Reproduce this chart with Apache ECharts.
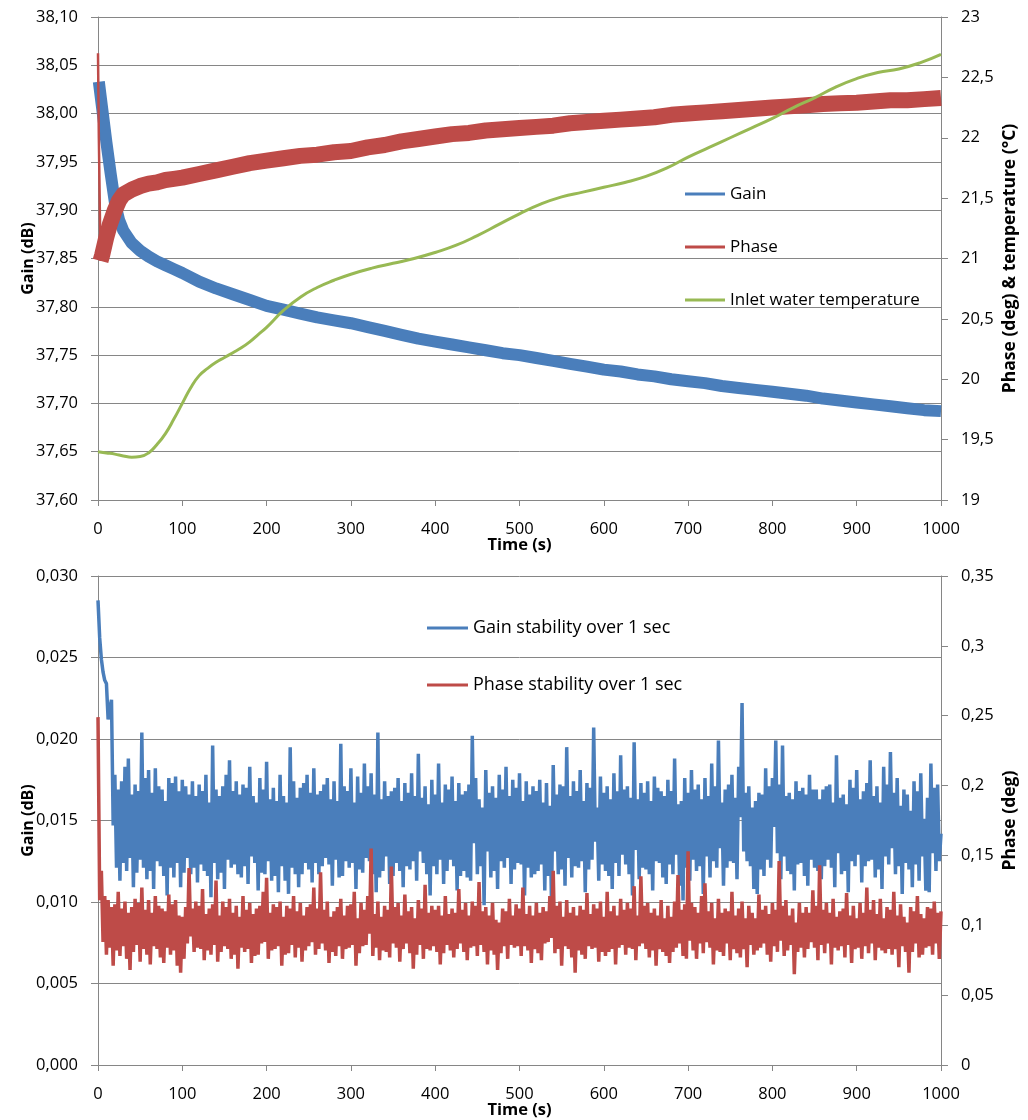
<!DOCTYPE html>
<html><head><meta charset="utf-8">
<script src="https://cdn.jsdelivr.net/npm/echarts@6/dist/echarts.min.js"></script>
<style>html,body{margin:0;padding:0;background:#fff}#c{width:1028px;height:1120px}</style>
</head><body><div id="c"></div>
<script>
// ---------- TOP CHART DATA ----------
const gainT = [1,5,10,15,20,25,30,40,50,60,70,80,90,100,120,140,160,180,200,220,240,260,280,300,320,340,360,380,400,420,440,460,480,500,520,540,560,580,600,620,640,660,680,700,720,740,760,780,800,820,840,860,880,900,920,940,960,980,1000];
const gainV = [38.033,38.005,37.970,37.938,37.908,37.890,37.879,37.866,37.858,37.852,37.847,37.843,37.839,37.835,37.826,37.819,37.813,37.807,37.801,37.797,37.793,37.789,37.786,37.783,37.779,37.775,37.771,37.767,37.764,37.761,37.758,37.755,37.752,37.750,37.747,37.744,37.741,37.738,37.735,37.733,37.730,37.728,37.725,37.723,37.721,37.718,37.716,37.714,37.712,37.710,37.708,37.705,37.703,37.701,37.699,37.697,37.695,37.693,37.692];

const phaseSpikeT = [0, 1, 3];
const phaseSpikeV = [22.70, 22.00, 20.98];
const phaseT = [3,5,8,10,14,20,25,30,40,50,60,70,80,90,100,120,140,160,180,200,220,240,260,280,300,320,340,360,380,400,420,440,460,480,500,520,540,560,580,600,620,640,660,680,700,720,740,760,780,800,820,840,860,880,900,920,940,960,980,1000];
const phaseV = [20.98,21.03,21.12,21.18,21.28,21.40,21.48,21.53,21.57,21.60,21.62,21.63,21.65,21.66,21.67,21.70,21.73,21.76,21.79,21.81,21.83,21.85,21.86,21.88,21.89,21.92,21.94,21.97,21.99,22.01,22.03,22.04,22.06,22.07,22.08,22.09,22.10,22.12,22.13,22.14,22.15,22.16,22.17,22.19,22.20,22.21,22.22,22.23,22.24,22.25,22.26,22.27,22.28,22.285,22.29,22.30,22.31,22.31,22.32,22.33];

const tempT = [0,10,20,30,40,50,60,70,80,90,100,110,120,130,140,150,160,170,180,190,200,220,240,260,280,300,325,350,375,400,425,450,475,500,525,550,575,600,625,650,675,700,725,750,775,800,825,850,875,900,925,950,975,1000];
const tempV = [19.40,19.39,19.38,19.365,19.355,19.36,19.39,19.46,19.55,19.67,19.80,19.93,20.03,20.09,20.14,20.18,20.22,20.26,20.31,20.37,20.43,20.57,20.68,20.76,20.82,20.87,20.92,20.96,21.00,21.05,21.11,21.19,21.28,21.37,21.45,21.51,21.55,21.59,21.63,21.68,21.75,21.84,21.92,22.00,22.08,22.16,22.25,22.33,22.42,22.49,22.54,22.57,22.62,22.69];

// ---------- BOTTOM CHART DATA (one value every 2 s, t = 0..1000) ----------
const stabStep = 2;
const gainStab = [
0.0285,0.0262,0.0249,0.0241,0.0236,0.0234,0.0212,0.0219,0.0224,0.0147,
0.0178,0.0121,0.0169,0.0113,0.0174,0.0124,0.0183,0.0119,0.0188,0.0127,
0.0166,0.0109,0.0172,0.0118,0.0168,0.0126,0.0204,0.0121,0.0176,0.0114,
0.0181,0.0119,0.0167,0.0108,0.0182,0.0125,0.0171,0.0122,0.0169,0.0116,
0.0162,0.0104,0.0176,0.0121,0.0173,0.0115,0.0177,0.0124,0.0168,0.0109,
0.0175,0.0118,0.0171,0.0127,0.0166,0.0117,0.0174,0.0121,0.0165,0.0112,
0.0172,0.0123,0.0168,0.0119,0.0178,0.0116,0.0161,0.0103,0.0196,0.0124,
0.0169,0.0114,0.0165,0.0118,0.0171,0.0108,0.0178,0.0126,0.0187,0.0121,
0.0168,0.0123,0.0174,0.0117,0.0166,0.0115,0.0172,0.0122,0.0170,0.0111,
0.0183,0.0128,0.0165,0.0124,0.0161,0.0107,0.0176,0.0118,0.0169,0.0117,
0.0186,0.0125,0.0163,0.0113,0.0170,0.0116,0.0162,0.0106,0.0178,0.0122,
0.0165,0.0113,0.0161,0.0105,0.0195,0.0121,0.0174,0.0117,0.0164,0.0109,
0.0170,0.0117,0.0173,0.0124,0.0178,0.0120,0.0167,0.0112,0.0182,0.0124,
0.0166,0.0117,0.0168,0.0122,0.0172,0.0127,0.0176,0.0123,0.0163,0.0110,
0.0174,0.0126,0.0162,0.0115,0.0197,0.0116,0.0171,0.0125,0.0168,0.0121,
0.0182,0.0124,0.0161,0.0108,0.0177,0.0120,0.0167,0.0118,0.0185,0.0127,
0.0171,0.0125,0.0179,0.0117,0.0166,0.0106,0.0204,0.0115,0.0163,0.0119,
0.0174,0.0128,0.0165,0.0111,0.0168,0.0116,0.0170,0.0124,0.0176,0.0119,
0.0162,0.0109,0.0173,0.0122,0.0167,0.0120,0.0179,0.0125,0.0165,0.0113,
0.0191,0.0131,0.0164,0.0124,0.0171,0.0117,0.0160,0.0104,0.0175,0.0122,
0.0166,0.0117,0.0185,0.0126,0.0161,0.0111,0.0172,0.0119,0.0169,0.0126,
0.0177,0.0122,0.0162,0.0107,0.0173,0.0116,0.0166,0.0119,0.0168,0.0115,
0.0172,0.0113,0.0202,0.0136,0.0176,0.0117,0.0163,0.0122,0.0158,0.0098,
0.0181,0.0131,0.0167,0.0115,0.0171,0.0119,0.0164,0.0108,0.0178,0.0125,
0.0169,0.0121,0.0183,0.0127,0.0165,0.0111,0.0175,0.0120,0.0170,0.0124,
0.0179,0.0123,0.0162,0.0104,0.0174,0.0121,0.0166,0.0115,0.0171,0.0117,
0.0168,0.0119,0.0175,0.0123,0.0161,0.0107,0.0173,0.0116,0.0159,0.0098,
0.0184,0.0131,0.0166,0.0117,0.0172,0.0120,0.0171,0.0110,0.0195,0.0127,
0.0165,0.0115,0.0174,0.0122,0.0168,0.0121,0.0181,0.0125,0.0162,0.0106,
0.0173,0.0120,0.0170,0.0126,0.0207,0.0137,0.0158,0.0113,0.0177,0.0123,
0.0167,0.0119,0.0171,0.0116,0.0163,0.0108,0.0179,0.0124,0.0168,0.0116,
0.0190,0.0129,0.0169,0.0123,0.0171,0.0117,0.0164,0.0104,0.0198,0.0132,
0.0163,0.0114,0.0173,0.0121,0.0167,0.0120,0.0174,0.0117,0.0162,0.0107,
0.0177,0.0125,0.0170,0.0124,0.0168,0.0115,0.0165,0.0111,0.0175,0.0123,
0.0168,0.0117,0.0188,0.0129,0.0160,0.0110,0.0162,0.0101,0.0176,0.0121,
0.0167,0.0113,0.0181,0.0126,0.0169,0.0119,0.0172,0.0122,0.0163,0.0105,
0.0176,0.0128,0.0165,0.0115,0.0185,0.0125,0.0171,0.0121,0.0199,0.0133,
0.0161,0.0110,0.0169,0.0121,0.0172,0.0125,0.0178,0.0124,0.0164,0.0114,
0.0183,0.0152,0.0222,0.0131,0.0167,0.0125,0.0171,0.0122,0.0158,0.0108,
0.0162,0.0105,0.0167,0.0120,0.0166,0.0116,0.0182,0.0126,0.0171,0.0121,
0.0176,0.0146,0.0199,0.0130,0.0172,0.0114,0.0196,0.0128,0.0165,0.0119,
0.0167,0.0117,0.0163,0.0107,0.0174,0.0123,0.0168,0.0124,0.0170,0.0116,
0.0166,0.0110,0.0178,0.0126,0.0169,0.0121,0.0169,0.0119,0.0163,0.0114,
0.0169,0.0122,0.0171,0.0126,0.0172,0.0121,0.0161,0.0109,0.0190,0.0130,
0.0164,0.0117,0.0166,0.0119,0.0160,0.0106,0.0175,0.0125,0.0170,0.0122,
0.0181,0.0129,0.0163,0.0112,0.0168,0.0122,0.0173,0.0125,0.0187,0.0126,
0.0165,0.0115,0.0171,0.0120,0.0161,0.0108,0.0183,0.0128,0.0172,0.0123,
0.0192,0.0133,0.0167,0.0117,0.0176,0.0122,0.0159,0.0105,0.0169,0.0124,
0.0166,0.0120,0.0156,0.0109,0.0174,0.0123,0.0168,0.0113,0.0179,0.0128,
0.0151,0.0107,0.0164,0.0106,0.0185,0.0130,0.0170,0.0119,0.0172,0.0125,
0.0142];
const phaseStab = [
0.249,0.118,0.139,0.088,0.121,0.079,0.118,0.084,0.113,0.071,
0.115,0.082,0.124,0.078,0.112,0.085,0.117,0.076,0.109,0.068,
0.113,0.081,0.119,0.086,0.116,0.074,0.127,0.083,0.111,0.079,
0.118,0.072,0.109,0.085,0.121,0.083,0.114,0.077,0.112,0.073,
0.110,0.084,0.122,0.079,0.115,0.082,0.118,0.071,0.107,0.066,
0.106,0.076,0.113,0.087,0.141,0.092,0.112,0.081,0.117,0.084,
0.114,0.083,0.126,0.075,0.108,0.082,0.112,0.079,0.115,0.086,
0.132,0.074,0.107,0.081,0.117,0.085,0.113,0.083,0.119,0.076,
0.109,0.079,0.114,0.069,0.106,0.084,0.121,0.081,0.111,0.083,
0.116,0.073,0.108,0.078,0.112,0.079,0.114,0.087,0.124,0.088,
0.134,0.076,0.109,0.082,0.115,0.083,0.113,0.085,0.117,0.071,
0.106,0.079,0.114,0.080,0.112,0.086,0.121,0.077,0.110,0.084,
0.116,0.074,0.107,0.082,0.113,0.085,0.115,0.088,0.127,0.079,
0.112,0.083,0.138,0.087,0.111,0.082,0.117,0.073,0.106,0.081,
0.110,0.078,0.113,0.085,0.119,0.076,0.107,0.083,0.114,0.084,
0.115,0.086,0.124,0.071,0.105,0.080,0.116,0.085,0.111,0.086,
0.121,0.094,0.155,0.078,0.108,0.084,0.117,0.075,0.106,0.082,
0.114,0.081,0.111,0.077,0.142,0.087,0.113,0.084,0.116,0.074,
0.107,0.083,0.122,0.087,0.110,0.080,0.113,0.069,0.105,0.079,
0.118,0.086,0.112,0.076,0.129,0.083,0.109,0.082,0.114,0.085,
0.111,0.081,0.114,0.072,0.107,0.080,0.121,0.086,0.108,0.082,
0.112,0.077,0.109,0.083,0.126,0.087,0.111,0.081,0.116,0.075,
0.107,0.084,0.117,0.085,0.114,0.078,0.131,0.086,0.110,0.081,
0.113,0.072,0.107,0.082,0.116,0.079,0.104,0.068,0.102,0.080,
0.112,0.085,0.110,0.076,0.119,0.086,0.107,0.084,0.115,0.085,
0.112,0.078,0.127,0.085,0.108,0.082,0.114,0.073,0.107,0.083,
0.116,0.080,0.109,0.075,0.113,0.087,0.110,0.088,0.121,0.091,
0.139,0.080,0.114,0.083,0.117,0.071,0.106,0.085,0.118,0.083,
0.109,0.077,0.113,0.066,0.107,0.082,0.114,0.079,0.111,0.076,
0.123,0.085,0.108,0.083,0.115,0.084,0.112,0.074,0.117,0.081,
0.106,0.078,0.124,0.081,0.110,0.083,0.114,0.072,0.107,0.084,
0.119,0.086,0.111,0.079,0.116,0.084,0.112,0.083,0.128,0.075,
0.107,0.085,0.135,0.087,0.114,0.083,0.116,0.077,0.109,0.082,
0.112,0.071,0.107,0.083,0.118,0.081,0.105,0.078,0.114,0.073,
0.106,0.081,0.117,0.084,0.136,0.087,0.111,0.078,0.115,0.076,
0.153,0.089,0.116,0.082,0.113,0.076,0.109,0.087,0.121,0.080,
0.130,0.088,0.110,0.084,0.116,0.072,0.105,0.082,0.119,0.081,
0.109,0.078,0.112,0.087,0.110,0.075,0.124,0.083,0.107,0.080,
0.112,0.077,0.117,0.083,0.105,0.070,0.114,0.086,0.109,0.079,
0.105,0.082,0.122,0.084,0.111,0.087,0.114,0.079,0.108,0.074,
0.116,0.085,0.111,0.081,0.146,0.089,0.114,0.078,0.118,0.082,
0.107,0.086,0.112,0.065,0.102,0.081,0.116,0.084,0.109,0.077,
0.113,0.083,0.109,0.088,0.125,0.084,0.114,0.075,0.143,0.086,
0.111,0.080,0.116,0.087,0.109,0.072,0.119,0.084,0.106,0.082,
0.110,0.085,0.112,0.077,0.123,0.086,0.107,0.073,0.114,0.083,
0.105,0.084,0.116,0.076,0.109,0.085,0.127,0.080,0.111,0.087,
0.118,0.075,0.108,0.084,0.119,0.082,0.105,0.080,0.113,0.083,
0.111,0.079,0.124,0.083,0.107,0.070,0.115,0.085,0.106,0.081,
0.102,0.066,0.113,0.081,0.110,0.087,0.121,0.077,0.108,0.079,
0.105,0.084,0.113,0.085,0.112,0.079,0.117,0.087,0.109,0.076,
0.110];

// ---------- RENDER ----------
const FONT = 'Open Sans';
const GRID_C = '#868686';
const BLUE = '#4A7EBB', RED = '#BE4B48', GREEN = '#98B954';
const zip = (t, v) => t.map((x, i) => [x, v[i]]);
const zipStep = (v, s) => v.map((y, i) => [i * s, y]);
const fixed = d => v => v.toFixed(d).replace('.', ',');
const general = v => String(Math.round(v * 1000) / 1000).replace('.', ',');

const labelStyle = {fontFamily: FONT, fontSize: 16.5, color: '#000'};
const nameStyle = s => ({fontFamily: FONT, fontSize: s, fontWeight: 'bold', color: '#000'});

function xAxis(gridIndex) {
  return {
    type: 'value', gridIndex, min: 0, max: 1000, interval: 100,
    name: 'Time (s)', nameLocation: 'middle', nameGap: 37, nameMoveOverlap: false, nameTextStyle: nameStyle(16.5),
    axisLine: {show: true, onZero: false, lineStyle: {color: GRID_C}},
    axisTick: {show: true, length: 6, lineStyle: {color: GRID_C}},
    axisLabel: Object.assign({margin: 21, formatter: v => String(v)}, labelStyle),
    splitLine: {show: false}
  };
}
function yAxis(gridIndex, pos, min, max, interval, fmt, name, nameGap, nameSize, grid) {
  return {
    type: 'value', gridIndex, position: pos, min, max, interval,
    name, nameLocation: 'middle', nameGap, nameRotate: 90, nameMoveOverlap: false, nameTextStyle: nameStyle(nameSize),
    axisLine: {show: true, lineStyle: {color: GRID_C}},
    axisTick: {show: true, length: 7, lineStyle: {color: GRID_C}},
    axisLabel: Object.assign({margin: 20, formatter: fmt}, labelStyle),
    splitLine: {show: grid, lineStyle: {color: GRID_C, width: 1}}
  };
}

const chart = echarts.init(document.getElementById('c'), null, {renderer: 'canvas'});
chart.setOption({
  animation: false,
  backgroundColor: '#fff',
  grid: [
    {left: 98, right: 87, top: 17, height: 483},
    {left: 98, right: 87, top: 576, height: 492}
  ],
  xAxis: [xAxis(0), xAxis(1)],
  yAxis: [
    yAxis(0, 'left', 37.60, 38.10, 0.05, fixed(2), 'Gain (dB)', 62, 16, true),
    yAxis(0, 'right', 19, 23, 0.5, general, 'Phase (deg) & temperature (°C)', 60, 17.5, false),
    yAxis(1, 'left', 0, 0.03, 0.005, fixed(3), 'Gain (dB)', 62, 16, true),
    yAxis(1, 'right', 0, 0.35, 0.05, general, 'Phase (deg)', 60, 17.5, false)
  ],
  legend: [
    {data: ['Gain', 'Phase', 'Inlet water temperature'], orient: 'vertical', left: 685, top: 184, padding: 0,
     itemWidth: 40, itemHeight: 3, itemGap: 33, icon: 'rect', selectedMode: false,
     textStyle: {fontFamily: FONT, fontSize: 17, color: '#000', lineHeight: 20}},
    {data: ['Gain stability over 1 sec', 'Phase stability over 1 sec'], orient: 'vertical', left: 427, top: 618, padding: 0,
     itemWidth: 41, itemHeight: 3, itemGap: 37, icon: 'rect', selectedMode: false,
     textStyle: {fontFamily: FONT, fontSize: 18, color: '#000', lineHeight: 20}}
  ],
  series: [
    {name: 'Gain', type: 'line', xAxisIndex: 0, yAxisIndex: 0, data: zip(gainT, gainV),
     showSymbol: false, color: BLUE, lineStyle: {width: 12, color: BLUE, cap: 'butt', join: 'round'}},
    {name: 'PhaseSpike', type: 'line', xAxisIndex: 0, yAxisIndex: 1, data: zip(phaseSpikeT, phaseSpikeV),
     showSymbol: false, color: RED, lineStyle: {width: 2.5, color: RED}},
    {name: 'Phase', type: 'line', xAxisIndex: 0, yAxisIndex: 1, data: zip(phaseT, phaseV),
     showSymbol: false, color: RED, lineStyle: {width: 16, color: RED, cap: 'butt', join: 'round'}},
    {name: 'Inlet water temperature', type: 'line', xAxisIndex: 0, yAxisIndex: 1, data: zip(tempT, tempV),
     showSymbol: false, smooth: true, color: GREEN, lineStyle: {width: 3, color: GREEN}},
    {name: 'Gain stability over 1 sec', type: 'line', xAxisIndex: 1, yAxisIndex: 2, data: zipStep(gainStab, stabStep),
     showSymbol: false, color: BLUE, lineStyle: {width: 3.5, color: BLUE}},
    {name: 'Phase stability over 1 sec', type: 'line', xAxisIndex: 1, yAxisIndex: 3, data: zipStep(phaseStab, stabStep),
     showSymbol: false, color: RED, lineStyle: {width: 3.5, color: RED}}
  ]
});
</script></body></html>
